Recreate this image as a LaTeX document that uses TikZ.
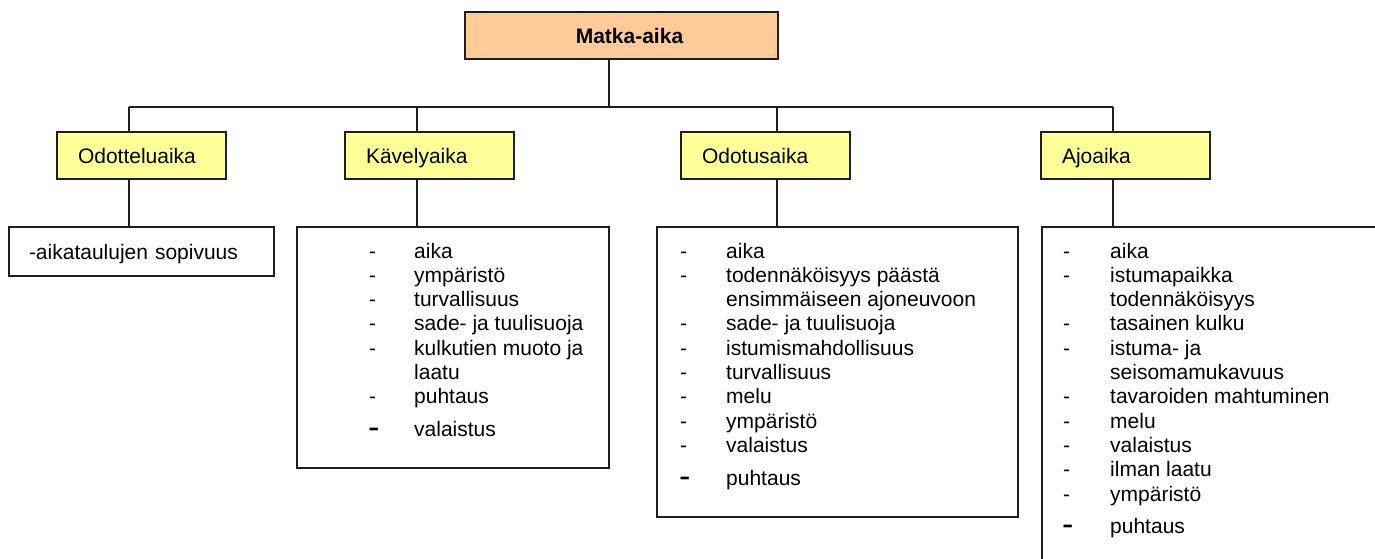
\documentclass[tikz,border=0pt]{standalone}
\usepackage{fontspec}
\setmainfont{Liberation Sans}
\usepackage{tikz}
\usetikzlibrary{positioning, calc}
\definecolor{tripeach}{RGB}{255,204,153}
\definecolor{tripyellow}{RGB}{255,255,153}
\definecolor{tripline}{RGB}{30,30,30}
\tikzset{
    mainbox/.style={rectangle, draw=tripline, fill=tripeach, line width=2pt, minimum width=313pt, minimum height=47pt, align=center, font=\fontsize{21}{24}\selectfont\bfseries},
    subbox/.style={rectangle, draw=tripline, fill=tripyellow, line width=2pt, minimum width=169pt, minimum height=47pt, text width=127pt, inner xsep=21pt, inner ysep=0pt, text height=15pt, text depth=0pt, align=left, font=\fontsize{21}{24}\selectfont},
    listbox/.style={rectangle, draw=tripline, fill=white, line width=2pt, inner sep=0pt},
    itemtext/.style={anchor=base west, inner sep=0pt, font=\fontsize{21}{24}\selectfont},
    bigdash/.style={anchor=base west, inner sep=0pt, font=\fontsize{34}{34}\selectfont},
    link/.style={draw=tripline, line width=2pt}
}

\begin{document}
\begin{tikzpicture}[x=1pt, y=-1pt]
        \useasboundingbox (0,0) rectangle (1375,559);
        \clip (0,0) rectangle (1375,559);
        % === Top: Matka-aika ===
        \node[mainbox] (main) at (621.5,35.5) {\hspace*{16pt}Matka-aika};
        \coordinate (hub) at (609,107);
        \coordinate (j1) at (129,107);
        \coordinate (j2) at (417,107);
        \coordinate (j3) at (777,107);
        \coordinate (j4) at (1113,107);
        
        % === Second level ===
        \node[subbox] (odl) at (141.5,155.5) {Odotteluaika};
        \node[subbox] (kav) at (429.5,155.5) {Kävelyaika};
        \node[subbox] (odo) at (765.5,155.5) {Odotusaika};
        \node[subbox] (ajo) at (1125.5,155.5) {Ajoaika};
        
        % === Lists ===
        \node[listbox, minimum width=265pt, minimum height=49pt, text width=225pt, inner xsep=20pt, text height=15pt, text depth=0pt, align=left, font=\fontsize{21}{24}\selectfont] (odllist) at (141.5,251.5) {-aikataulujen sopivuus};
        \node[listbox, minimum width=312pt, minimum height=241pt] (kavlist) at (453,347.5) {};
        \node[listbox, minimum width=361pt, minimum height=290pt] (odolist) at (837.5,372) {};
        \node[listbox, minimum width=358pt, minimum height=373pt] (ajolist) at (1221,413.5) {};
        
        % Kävelyaika
        \foreach \d/\t [count=\i] in {1/aika, 1/ympäristö, 1/turvallisuus, 1/{sade- ja tuulisuoja}, 1/{kulkutien muoto ja}, 0/laatu, 1/puhtaus}{
            \node[itemtext] (kav\i) at (414,{258+24.3*(\i-1)}) {\t};
            \ifnum\d=1 \node[itemtext] (kavd\i) at (369,{258+24.3*(\i-1)}) {-};\fi
        }
        \node[itemtext] (kav8) at (414,436) {valaistus};
        \node[bigdash] (kavd8) at (368,438) {-};
        
        % Odotusaika
        \foreach \d/\t [count=\i] in {1/aika, 1/{todennäköisyys päästä}, 0/{ensimmäiseen ajoneuvoon}, 1/{sade- ja tuulisuoja}, 1/istumismahdollisuus, 1/turvallisuus, 1/melu, 1/ympäristö, 1/valaistus}{
            \node[itemtext] (odo\i) at (726,{258+24.3*(\i-1)}) {\t};
            \ifnum\d=1 \node[itemtext] (odod\i) at (680,{258+24.3*(\i-1)}) {-};\fi
        }
        \node[itemtext] (odo10) at (726,485) {puhtaus};
        \node[bigdash] (odod10) at (679,487) {-};
        
        % Ajoaika
        \foreach \d/\t [count=\i] in {1/aika, 1/istumapaikka, 0/todennäköisyys, 1/{tasainen kulku}, 1/{istuma- ja}, 0/seisomamukavuus, 1/{tavaroiden mahtuminen}, 1/melu, 1/valaistus, 1/{ilman laatu}, 1/ympäristö}{
            \node[itemtext] (ajo\i) at (1110,{258+24.3*(\i-1)}) {\t};
            \ifnum\d=1 \node[itemtext] (ajod\i) at (1063,{258+24.3*(\i-1)}) {-};\fi
        }
        \node[itemtext] (ajo12) at (1110,533) {puhtaus};
        \node[bigdash] (ajod12) at (1062,535) {-};
        
        % === Connectors ===
        \draw[link] (main.south -| hub) -- (hub);
        \draw[link] (j1) -- (j4);
        \foreach \j/\b/\l in {j1/odl/odllist, j2/kav/kavlist, j3/odo/odolist, j4/ajo/ajolist}{
            \draw[link] (\j) -- (\j |- \b.north);
            \draw[link] (\j |- \b.south) -- (\j |- \l.north);
        }
    \end{tikzpicture}
\end{document}
